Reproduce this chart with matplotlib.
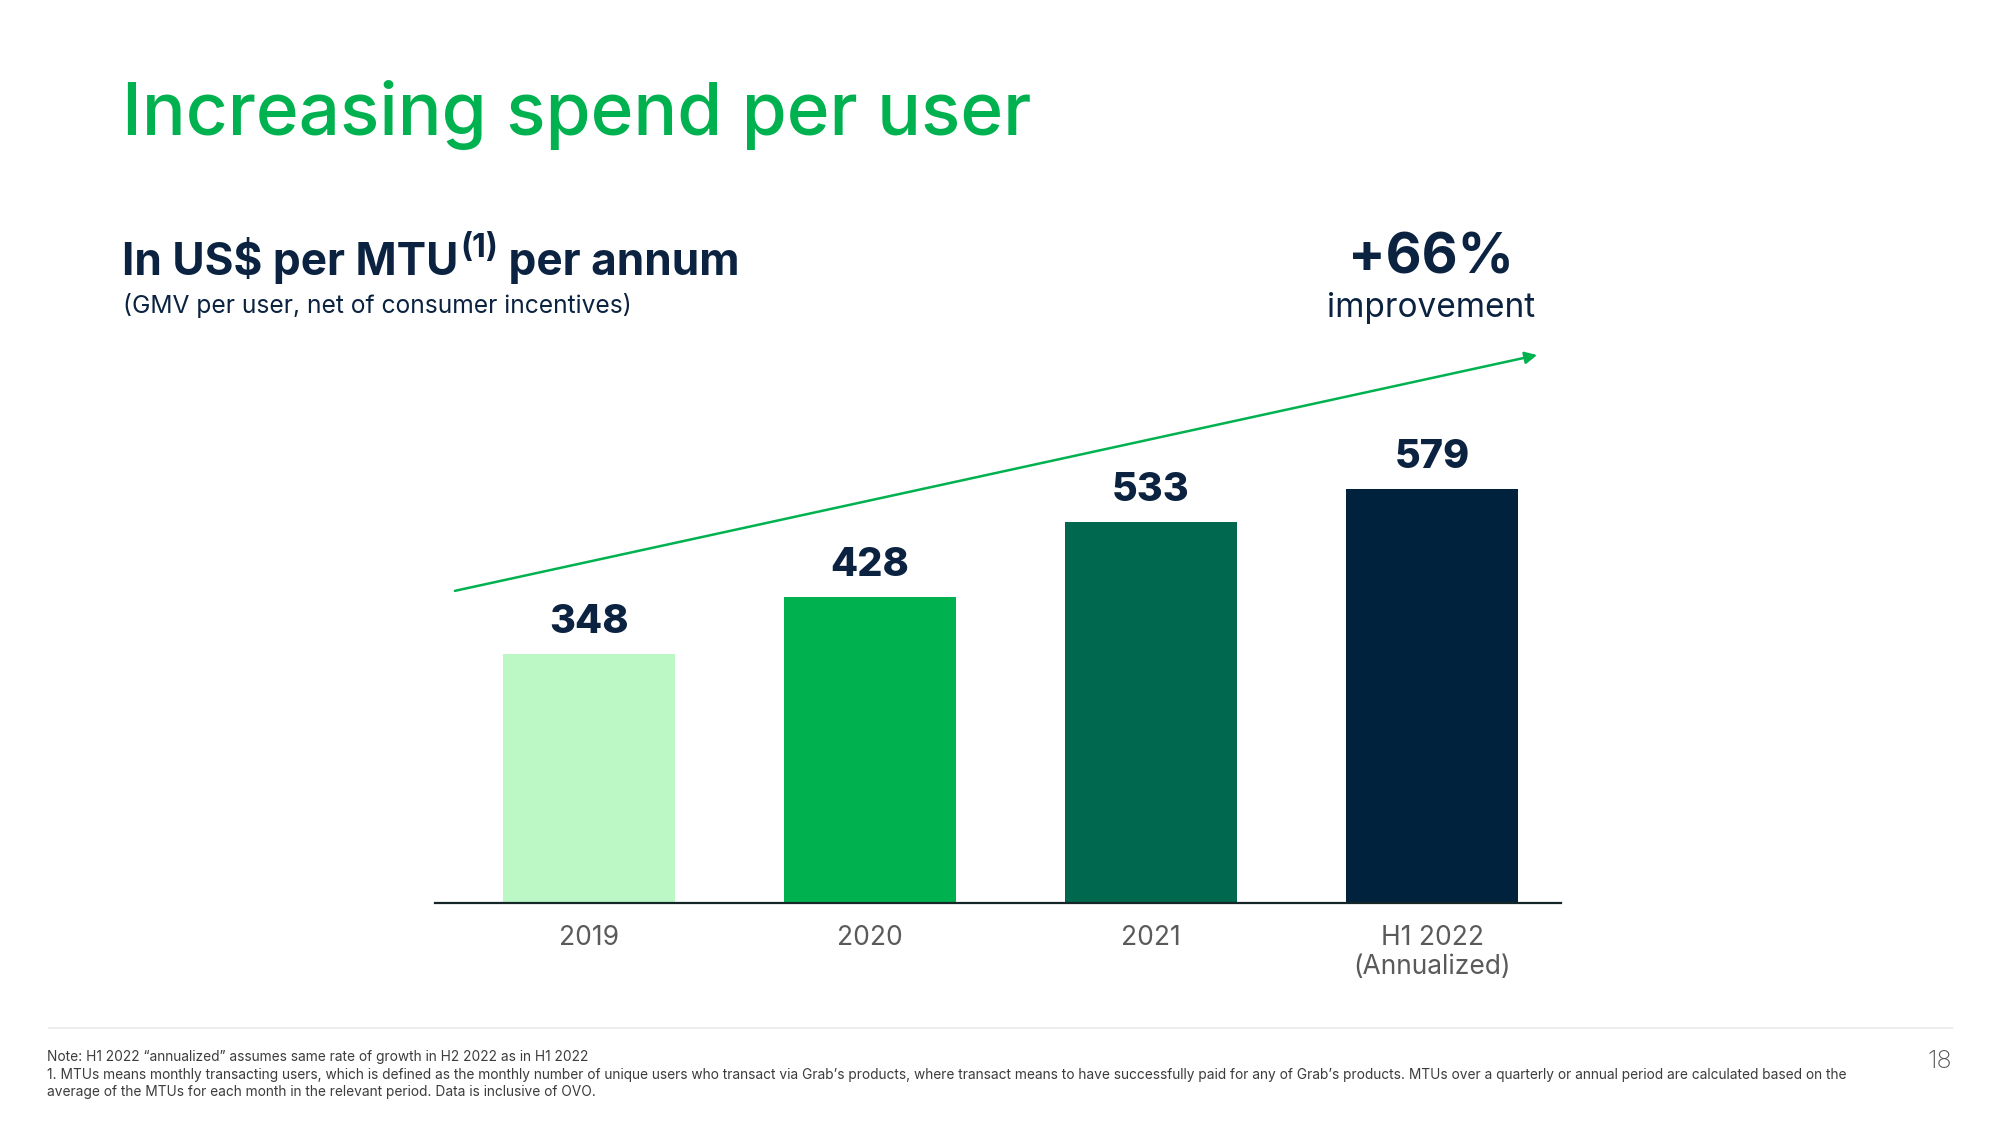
import matplotlib
import matplotlib.pyplot as plt

matplotlib.use("Agg")

# Datos
categories = ["2019", "2020", "2021", "H1 2022\n(Annualized)"]
spend_per_user = [348, 428, 533, 579]
bar_colors = ["#bcf8c6", "#00b14f", "#00684f", "#00223d"]
growth_label = "+66%"

NAVY = "#0b2340"
GREEN = "#00b14f"
W, H = 2000, 1125

plt.rcParams["font.family"] = ["Inter", "DejaVu Sans"]

fig = plt.figure(figsize=(20, 11.25), dpi=100)


def fx(px):
    return px / W


def fy(py):
    return 1 - py / H


# Ejes del gráfico de barras (baseline en y=903 px)
ax = fig.add_axes([fx(435), fy(903), fx(1561) - fx(435), fy(300) - fy(903)])
x = range(len(categories))
bars = ax.bar(x, spend_per_user, width=0.615, color=bar_colors, zorder=2)
ax.set_xlim(-0.548, 3.459)
ax.set_ylim(0, 843)

for rect, val in zip(bars, spend_per_user):
    ax.annotate(
        f"{val}",
        xy=(rect.get_x() + rect.get_width() / 2, rect.get_height()),
        xytext=(0, 15),
        textcoords="offset points",
        ha="center",
        va="baseline",
        fontsize=28.5,
        fontweight="heavy",
        color=NAVY,
    )

ax.set_xticks(list(x))
ax.set_xticklabels(categories, fontsize=19, color="#5a5a5a", linespacing=1.15)
ax.tick_params(axis="x", length=0, pad=16)
ax.set_yticks([])
for side in ["left", "right", "top"]:
    ax.spines[side].set_visible(False)
ax.spines["bottom"].set_color("#142628")
ax.spines["bottom"].set_linewidth(1.6)

# Flecha de tendencia
ax.annotate(
    "",
    xy=(3.374, spend_per_user[-1] * 1.323),
    xytext=(-0.477, spend_per_user[0] * 1.254),
    arrowprops=dict(arrowstyle="-|>", color=GREEN, lw=1.8, mutation_scale=18, shrinkA=0, shrinkB=0),
    annotation_clip=False,
)

# Títulos
fig.text(fx(122), fy(135), "Increasing spend per user", fontsize=52.5, fontweight="medium",
         color=GREEN, va="baseline")

t1 = fig.text(fx(122), fy(275), "In US\\$ per MTU", fontsize=31.8, fontweight="bold",
              color=NAVY, va="baseline")
t2 = fig.text(0, 0, "(1)", fontsize=23, fontweight="bold", color=NAVY, va="baseline")
fig.canvas.draw()
bb = t1.get_window_extent()
t2.set_position((bb.x1 / W + 0.0008, fy(257)))
fig.canvas.draw()
bb2 = t2.get_window_extent()
fig.text(bb2.x1 / W, fy(275), " per annum", fontsize=31.8, fontweight="bold", color=NAVY,
         va="baseline")

fig.text(fx(123), fy(313), "(GMV per user, net of consumer incentives)", fontsize=17.7,
         color=NAVY, va="baseline")

fig.text(fx(1431), fy(273), growth_label, fontsize=40, fontweight="bold", color=NAVY,
         ha="center", va="baseline")
fig.text(fx(1431), fy(317), "improvement", fontsize=24, color=NAVY, ha="center", va="baseline")

# Pie de página
fig.add_artist(plt.Line2D([fx(49), fx(1952)], [fy(1028), fy(1028)], color="#ececec", lw=1.5))
notes = (
    "Note: H1 2022 \u201cannualized\u201d assumes same rate of growth in H2 2022 as in H1 2022\n"
    "1. MTUs means monthly transacting users, which is defined as the monthly number of unique users "
    "who transact via Grab\u2019s products, where transact means to have successfully paid for any of "
    "Grab\u2019s products. MTUs over a quarterly or annual period are calculated based on the\n"
    "average of the MTUs for each month in the relevant period. Data is inclusive of OVO."
)
fig.text(fx(47), fy(1050), notes, fontsize=9.9, color="#3c3c3c", va="top", linespacing=1.33)
fig.text(fx(1940), fy(1062), "18", fontsize=18, color="#555555", ha="center", va="center",
         fontweight="light")

fig.savefig("out.png", dpi=100, facecolor="white")
plt.close(fig)
